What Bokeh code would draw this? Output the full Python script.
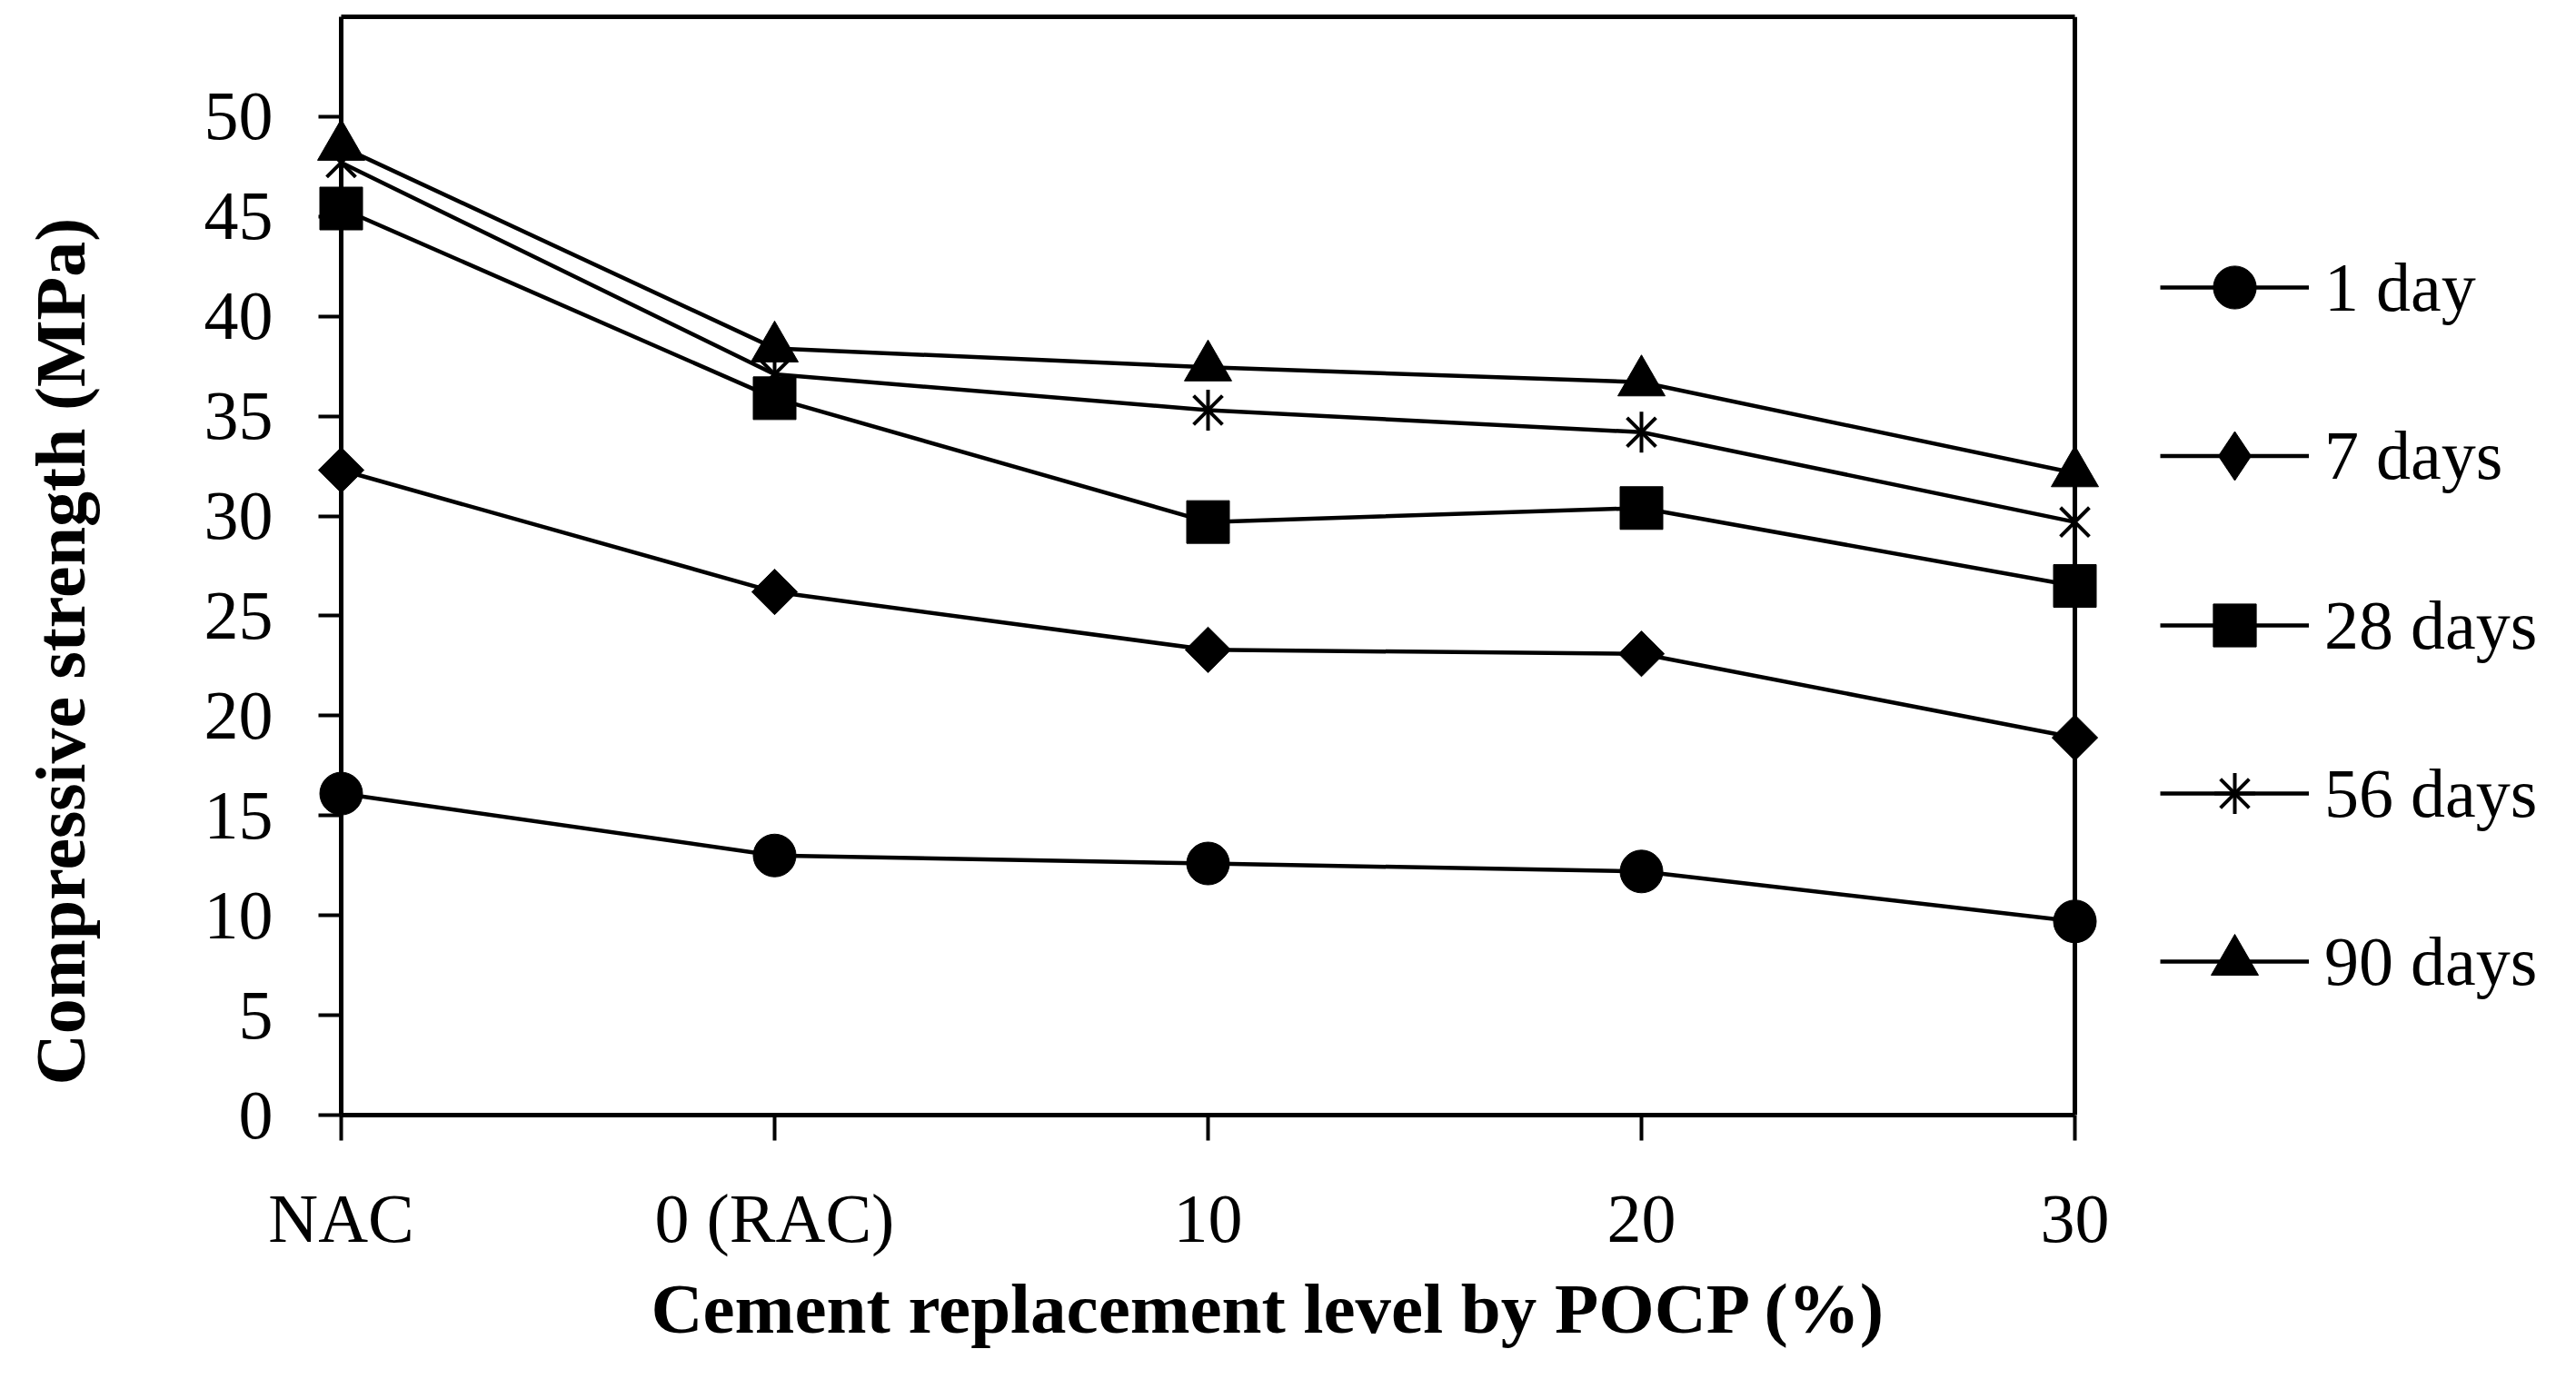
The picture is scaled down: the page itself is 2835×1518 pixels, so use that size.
import math
from bokeh.plotting import figure
from bokeh.models import (Range1d, FixedTicker, Legend, LegendItem, Title,
                          LinearAxis, Span)
from bokeh.embed import file_html
from bokeh.resources import INLINE

# ---------------- data ----------------
categories = ["NAC", "0 (RAC)", "10", "20", "30"]
day1 = [16.1, 13.0, 12.6, 12.2, 9.7]
day7 = [32.3, 26.2, 23.3, 23.1, 18.9]
day28 = [45.4, 35.9, 29.7, 30.4, 26.5]
day56 = [47.7, 37.1, 35.3, 34.2, 29.7]
day90 = [48.5, 38.4, 37.45, 36.7, 32.15]
series_names = ["1 day", "7 days", "28 days", "56 days", "90 days"]
y_ticks = [0, 5, 10, 15, 20, 25, 30, 35, 40, 45, 50]
y_max = 55
x_title = "Cement replacement level by POCP (%)"
y_title = "Compressive strength (MPa)"

FONT = "Liberation Serif"
W, H = 2819, 1502
FL, FT, FB = 375, 18, 1227          # frame edges in figure px
BOX_R = 2283                        # right edge of the plot box (figure px)

xs = list(range(len(categories)))
n_last = len(categories) - 1
# frame runs to the figure's right edge; the plot box ends at the last category
x_end = n_last * (W - FL) / (BOX_R - FL)

p = figure(width=W, height=H, output_backend="svg", toolbar_location=None,
           x_range=Range1d(0, x_end), y_range=Range1d(0, y_max),
           min_border_left=FL, min_border_right=0,
           min_border_top=FT, min_border_bottom=H - FB)
p.background_fill_color = "white"
p.border_fill_color = "white"
p.grid.visible = False
p.outline_line_color = None

# axes
for ax in (p.xaxis[0], p.yaxis[0]):
    ax.axis_line_color = "black"
    ax.axis_line_width = 5
    ax.major_tick_line_color = "black"
    ax.major_tick_line_width = 4
    ax.major_tick_in = 0
    ax.minor_tick_line_color = None
    ax.major_label_text_font = FONT
    ax.major_label_text_font_size = "76px"
    ax.major_label_text_color = "black"

p.xaxis.ticker = FixedTicker(ticks=xs)
p.xaxis.bounds = (0, n_last)
p.xaxis.major_label_overrides = {i: c for i, c in enumerate(categories)}
p.xaxis.major_tick_out = 28
p.xaxis.major_label_standoff = 43
p.yaxis.ticker = FixedTicker(ticks=y_ticks)
p.yaxis.major_tick_out = 25
p.yaxis.major_label_standoff = 50

# top border of the plot box
top_axis = LinearAxis(bounds=(0, n_last), axis_line_width=5, axis_line_color="black",
                      major_tick_line_color=None, minor_tick_line_color=None,
                      major_label_text_font_size="0px", ticker=FixedTicker(ticks=[]))
p.add_layout(top_axis, "above")
# right border of the plot box
p.add_layout(Span(location=n_last, dimension="height", line_color="black", line_width=5))

# series
series = [day1, day7, day28, day56, day90]
legend_sizes = []
item_renderers = []
for name, vals in zip(series_names, series):
    lr = p.line(xs, vals, line_color="black", line_width=4.5, level="overlay")
    rs = [lr]
    if name == "1 day":
        rs.append(p.scatter(xs, vals, marker="circle", size=47, fill_color="black",
                            line_color="black", level="overlay"))
        legend_sizes.append(47)
    elif name == "7 days":
        p.scatter(xs, vals, marker="square", size=35.5, angle=math.pi / 4,
                  fill_color="black", line_color="black", level="overlay")
        # legend swatch (legend glyphs are never rotated)
        rs.append(p.scatter(xs, vals, marker="diamond", size=54, fill_color="black",
                            line_color="black", level="overlay", visible=False))
        legend_sizes.append(54)
    elif name == "28 days":
        rs.append(p.scatter(xs, vals, marker="square", size=47, fill_color="black",
                            line_color="black", level="overlay"))
        legend_sizes.append(47)
    elif name == "56 days":
        rs.append(p.scatter(xs, vals, marker="x", size=45, line_color="black",
                            line_width=4, level="overlay"))
        p.scatter(xs, vals, marker="dash", size=45, angle=math.pi / 2,
                  line_color="black", line_width=4, level="overlay")
        # legend swatch: vertical stroke (horizontal part hides on the line)
        rs.append(p.scatter(xs, vals, marker="cross", size=45, line_color="black",
                            line_width=4, level="overlay", visible=False))
        legend_sizes.append(45)
    else:
        rs.append(p.scatter(xs, vals, marker="triangle", size=52, fill_color="black",
                            line_color="black", level="overlay"))
        legend_sizes.append(52)
    item_renderers.append(rs)

# legend: one single-item legend per row (each marker keeps its own size)
row_centers = [316, 502, 688, 873, 1058]   # figure px from top
for name, rs, ms, cy in zip(series_names, item_renderers, legend_sizes, row_centers):
    gh = int(round(ms / 0.4))
    lg = Legend(items=[LegendItem(label=name, renderers=rs)],
                location=(2002, int(round(FB - (cy + gh / 2)))),
                glyph_width=164, glyph_height=gh, label_standoff=17,
                padding=0, margin=0, spacing=0, click_policy="none",
                border_line_color=None, background_fill_alpha=0,
                label_text_font=FONT, label_text_font_size="76px",
                label_text_color="black")
    p.add_layout(lg)

# axis titles
p.add_layout(Title(text=x_title, align="left", offset=341,
                   text_font=FONT, text_font_style="bold", text_font_size="79px",
                   text_color="black", standoff=19), "below")
# blank spacer between the y tick labels and the y title
p.add_layout(Title(text=" ", text_font_size="10px", standoff=99), "left")
p.add_layout(Title(text=y_title, align="left", offset=33,
                   text_font=FONT, text_font_style="bold", text_font_size="78px",
                   text_color="black", standoff=0), "left")

open("out.html", "w").write(file_html(p, INLINE))
